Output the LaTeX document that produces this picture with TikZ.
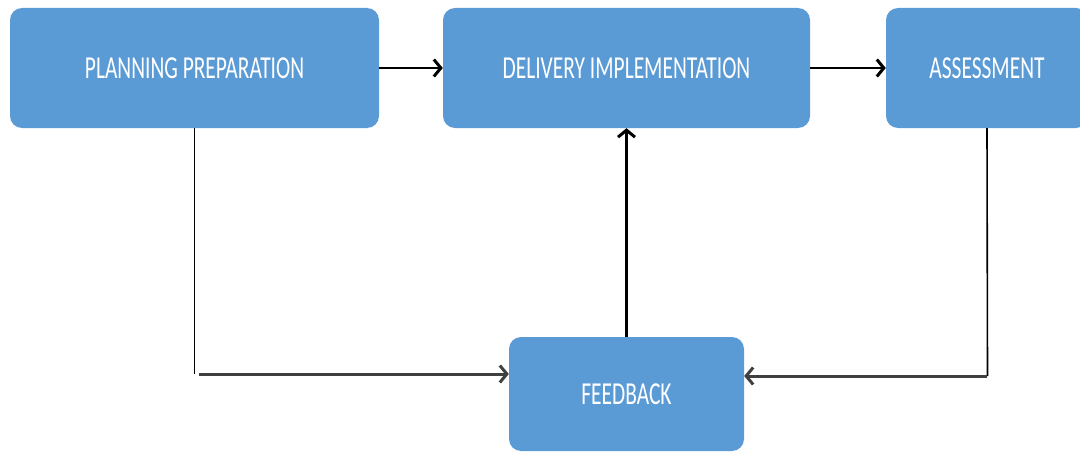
\documentclass[tikz,border=0pt]{standalone}
\usepackage{fontspec}
\usetikzlibrary{arrows.meta}
\newfontfamily\boxfont[FakeStretch=0.67]{Carlito}
\definecolor{boxblue}{HTML}{5B9BD5}

\tikzset{
	stage/.style = {rectangle, rounded corners = 12pt, fill = boxblue, draw = none,
		text = white, font = \boxfont\fontsize{32}{32}\selectfont, inner sep = 0pt},
	flow/.style = {->, line width = 2.6pt, black},
	feedline/.style = {->, line width = 3pt, black!75},
	riser/.style = {line width = 1.6pt, black}
}

\begin{document}
\begin{tikzpicture}[> = {Straight Barb[length = 7pt, width = 17pt, line width = 3pt]}, x = 1pt, y = -1pt]

	% Frame
	
	\useasboundingbox (0, 0) rectangle (1080, 452);
	\clip (0, 0) rectangle (1080, 452);
	
	% Stages
	
	\node [stage, minimum width = 369pt, minimum height = 120pt] (plan) at (194.5, 68) {PLANNING PREPARATION};
	\node [stage, minimum width = 367pt, minimum height = 120pt] (deliver) at (626.5, 68) {DELIVERY IMPLEMENTATION};
	\node [stage, minimum width = 202pt, minimum height = 120pt] (assess) at (987, 68) {ASSESSMENT};
	\node [stage, minimum width = 235pt, minimum height = 114pt] (feed) at (626.5, 394) {FEEDBACK};
	
	% Forward flow
	
	\draw [flow] (plan.east) -- (deliver.west);
	\draw [flow] (deliver.east) -- (assess.west);
	\draw [flow] (feed.north) -- (deliver.south);
	
	% Feedback loops
	
	\coordinate (planjoin) at (194.5, 374);
	\coordinate (assessjoin) at (987.5, 376);
	
	\draw [riser] (plan.south) -- (planjoin);
	\draw [feedline] ([xshift = 4pt] planjoin) -- (feed.west |- planjoin);
	
	\draw [riser] (assess.south) -- (assessjoin);
	\draw [feedline] ([xshift = -1pt] assessjoin) -- (feed.east |- assessjoin);

\end{tikzpicture}
\end{document}
